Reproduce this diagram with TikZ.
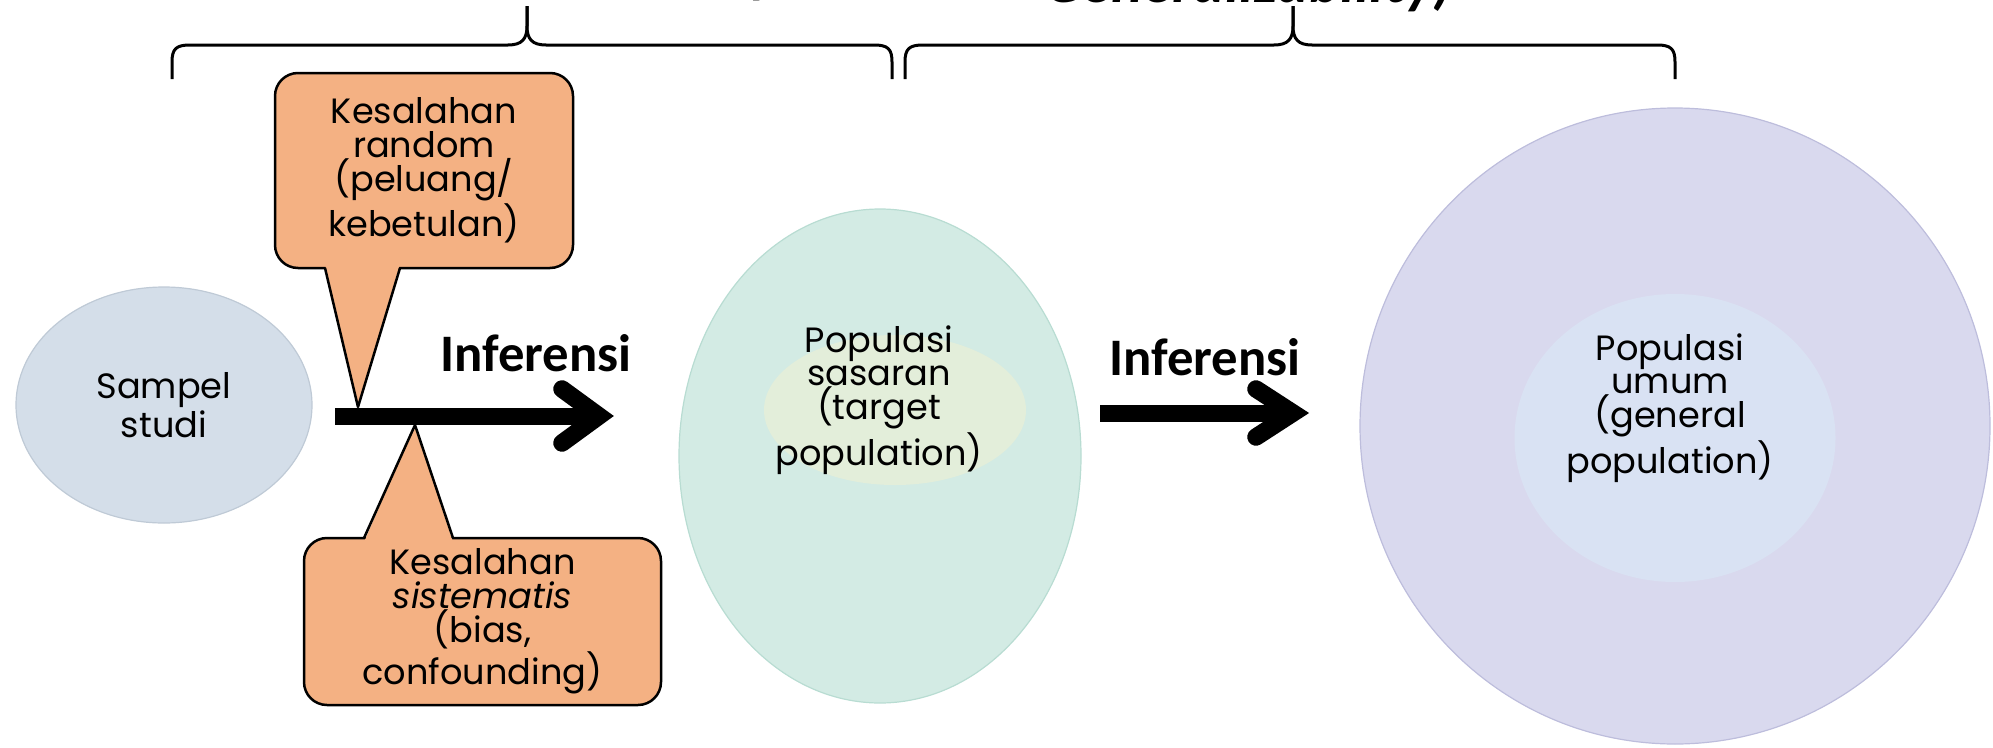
\documentclass[tikz,border=0pt]{standalone}
\usepackage{fontspec}
\setmainfont{Poppins}
\newfontfamily\headfont{Carlito}
\usetikzlibrary{shapes.geometric}

\definecolor{calloutfill}{HTML}{F4B183}
\definecolor{sampelfill}{HTML}{D4DEE9}
\definecolor{sampeldraw}{HTML}{BFCAD6}
\definecolor{targetfill}{HTML}{D3EBE4}
\definecolor{targetdraw}{HTML}{B8DCD2}
\definecolor{targetcore}{HTML}{E3EEDA}
\definecolor{generalfill}{HTML}{D9D9EE}
\definecolor{generaldraw}{HTML}{BDBDDC}
\definecolor{generalcore}{HTML}{D9E2F3}

\tikzset{
  every node/.style={inner sep=0pt, outer sep=0pt},
  poptext/.style={align=center, font=\fontsize{10}{9.6}\selectfont},
  pop/.style={ellipse, line width=0.12mm},
  core/.style={ellipse},
  callout/.style={draw=black, fill=calloutfill, line width=0.25mm,
    rounded corners=2.3mm, align=center, font=\fontsize{10}{9.6}\selectfont},
  pointer/.style={fill=calloutfill},
  pointer edge/.style={draw=black, line width=0.25mm, line join=round},
  bar/.style={line width=1.7mm},
  chevron/.style={line width=1.75mm, line cap=round, line join=miter},
  brace/.style={line width=0.3mm, line join=round},
  heading/.style={font=\headfont\bfseries\fontsize{15}{17}\selectfont},
  title/.style={font=\headfont\bfseries\itshape\fontsize{17}{19}\selectfont},
}

\begin{document}
\begin{tikzpicture}[x=0.1mm, y=-0.1mm]
\useasboundingbox (0,0) rectangle (1993,747);
\clip (0,0) rectangle (1993,747);

% headings above the braces
\node[title, anchor=base east] (ttl1) at (797,-9) {(Internal Validity)};
\node[title, anchor=base east] (ttl2) at (1452,2) {Generalizability)};

% braces
\draw[brace] (172,79) -- (172,62) .. controls (172,49) and (176,45) .. (190,45)
  -- (508,45) .. controls (522,45) and (527,39) .. (527,26) -- (527,6);
\draw[brace] (527,6) -- (527,26) .. controls (527,39) and (532,45) .. (546,45)
  -- (874,45) .. controls (888,45) and (892,49) .. (892,62) -- (892,79);
\draw[brace] (905,79) -- (905,62) .. controls (905,49) and (909,45) .. (923,45)
  -- (1274,45) .. controls (1288,45) and (1293,39) .. (1293,26) -- (1293,6);
\draw[brace] (1293,6) -- (1293,26) .. controls (1293,39) and (1298,45) .. (1312,45)
  -- (1657,45) .. controls (1671,45) and (1675,49) .. (1675,62) -- (1675,79);

% populations
\node[pop, fill=sampelfill, draw=sampeldraw, minimum width=29.6mm,
  minimum height=23.6mm, poptext] (sampel) at (164,405) {Sampel\\studi};

\node[pop, fill=targetfill, draw=targetdraw, minimum width=40.2mm,
  minimum height=49.4mm] (target) at (880,456) {};
\node[core, fill=targetcore, minimum width=26.2mm, minimum height=15mm]
  (targetcore) at (895,410) {};
\node[poptext] (targettext) at (879,400) {Populasi\\sasaran\\(target\\population)};

\node[pop, fill=generalfill, draw=generaldraw, minimum width=63mm,
  minimum height=63.6mm] (general) at (1675,426) {};
\node[core, fill=generalcore, minimum width=32.1mm, minimum height=28.8mm]
  (generalcore) at (1675,438) {};
\node[poptext] (generaltext) at (1670,408) {Populasi\\umum\\(general\\population)};

% inference arrows
\coordinate (a1s) at (335,416);
\coordinate (a1v) at (599,416);
\coordinate (a2s) at (1100,413);
\coordinate (a2v) at (1293,413);

\draw[bar] (a1s) -- (a1v);
\draw[chevron] ([shift={(-37,-27)}]a1v) -- (a1v) -- ([shift={(-37,27)}]a1v);
\draw[bar] (a2s) -- (a2v);
\draw[chevron] ([shift={(-37,-24)}]a2v) -- (a2v) -- ([shift={(-37,24)}]a2v);

\node[heading] (inf1) at (536,353) {Inferensi};
\node[heading] (inf2) at (1205,357) {Inferensi};

% error callouts
\coordinate (rtip) at (358,407);
\coordinate (stip) at (415,425);

\node[callout, minimum width=29.8mm, minimum height=19.5mm] (randombox)
  at (424,170.5) {Kesalahan\\random\\(peluang/\\kebetulan)};
\fill[pointer] ([xshift=-9.9mm,yshift=0.4mm]randombox.south) -- (rtip)
  -- ([xshift=-2.4mm,yshift=0.4mm]randombox.south) -- cycle;
\draw[pointer edge] ([xshift=-9.9mm]randombox.south) -- (rtip)
  -- ([xshift=-2.4mm]randombox.south);

\node[callout, minimum width=35.7mm, minimum height=16.7mm] (sysbox)
  at (482.5,621.5) {Kesalahan\\\textit{sistematis}\\(bias,\\confounding)};
\fill[pointer] ([xshift=-11.85mm,yshift=-0.4mm]sysbox.north) -- (stip)
  -- ([xshift=-2.95mm,yshift=-0.4mm]sysbox.north) -- cycle;
\draw[pointer edge] ([xshift=-11.85mm]sysbox.north) -- (stip)
  -- ([xshift=-2.95mm]sysbox.north);
\end{tikzpicture}
\end{document}
